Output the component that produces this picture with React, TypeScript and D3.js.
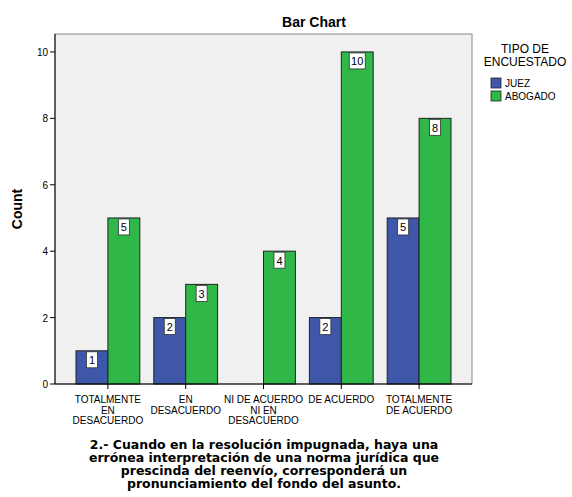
import * as d3 from "d3";
import React from "react";

const categories = [
  ["TOTALMENTE", "EN", "DESACUERDO"],
  ["EN", "DESACUERDO"],
  ["NI DE ACUERDO", "NI EN", "DESACUERDO"],
  ["DE ACUERDO"],
  ["TOTALMENTE", "DE ACUERDO"],
];
const seriesNames = ["JUEZ", "ABOGADO"];
const juez = [1, 2, 0, 2, 5];
const abogado = [5, 3, 4, 10, 8];
const yTicks = [0, 2, 4, 6, 8, 10];
const colors = ["#3e57a8", "#2fb748"];
const footer = [
  "2.- Cuando en la resolución impugnada, haya una",
  "errónea interpretación de una norma jurídica que",
  "prescinda del reenvío, corresponderá un",
  "pronunciamiento del fondo del asunto.",
];

const W = 572;
const H = 497;
const left = 55;
const right = 472;
const top = 34;
const bottom = 384;
const font = "Arial, 'Liberation Sans', sans-serif";

export default function App() {
  const keys = categories.map((_, i) => String(i));
  const x = d3.scaleBand().domain(keys).range([left, right]).paddingInner(0.18).paddingOuter(0.27);
  const x1 = d3.scaleBand().domain(seriesNames).range([0, x.bandwidth()]);
  const y = d3.scaleLinear().domain([0, 10.54]).range([bottom, top]);
  const series = [juez, abogado];

  return (
    <svg width={W} height={H} style={{ position: "absolute", left: 0, top: 0 }} fontFamily={font}>
      <rect x={0} y={0} width={W} height={H} fill="#fff" />
      <text x={314} y={27} textAnchor="middle" fontSize={14} fontWeight="bold">Bar Chart</text>
      <rect x={left} y={top} width={right - left} height={bottom - top} fill="#f0f0f0" stroke="#888" strokeWidth={1} />

      {keys.map((k, i) =>
        series.map((s, j) => {
          const v = s[i];
          if (!v) return null;
          const bx = x(k)! + x1(seriesNames[j])!;
          const bw = x1.bandwidth();
          const by = y(v);
          const label = String(v);
          const lw = label.length > 1 ? 16 : 11;
          return (
            <g key={k + "-" + j}>
              <rect x={bx} y={by} width={bw} height={bottom - by} fill={colors[j]} stroke="#222" strokeWidth={1} />
              <rect x={bx + bw / 2 - lw / 2} y={by + 1} width={lw} height={16} fill="#fff" stroke="#333" strokeWidth={0.8} />
              <text x={bx + bw / 2} y={by + 13.5} textAnchor="middle" fontSize={11}>{label}</text>
            </g>
          );
        })
      )}

      <line x1={left} x2={left} y1={top} y2={bottom} stroke="#000" />
      <line x1={left} x2={right} y1={bottom} y2={bottom} stroke="#000" />
      {yTicks.map((t) => (
        <g key={t}>
          <line x1={left - 5} x2={left} y1={y(t)} y2={y(t)} stroke="#000" />
          <text x={left - 7} y={y(t) + 4} textAnchor="end" fontSize={10}>{t}</text>
        </g>
      ))}
      {keys.map((k, i) => {
        const cx = x(k)! + x.bandwidth() / 2;
        return (
          <g key={k}>
            <line x1={cx} x2={cx} y1={bottom} y2={bottom + 5} stroke="#000" />
            {categories[i].map((line, li) => (
              <text key={li} x={cx} y={403 + li * 10.5} textAnchor="middle" fontSize={10}>{line}</text>
            ))}
          </g>
        );
      })}

      <text transform={`translate(22,${(top + bottom) / 2}) rotate(-90)`} textAnchor="middle" fontSize={14} fontWeight="bold">Count</text>

      <text x={525} y={53} textAnchor="middle" fontSize={12}>TIPO DE</text>
      <text x={525} y={66} textAnchor="middle" fontSize={12}>ENCUESTADO</text>
      {seriesNames.map((n, i) => (
        <g key={n}>
          <rect x={491} y={78 + i * 13} width={10} height={10} fill={colors[i]} stroke="#222" strokeWidth={0.8} />
          <text x={505} y={87 + i * 13} fontSize={10}>{n}</text>
        </g>
      ))}

      {footer.map((line, i) => (
        <text key={i} x={264} y={449 + i * 13} textAnchor="middle" fontSize={12.5} fontWeight="bold" fontFamily="'DejaVu Sans', Verdana, sans-serif">{line}</text>
      ))}
    </svg>
  );
}
